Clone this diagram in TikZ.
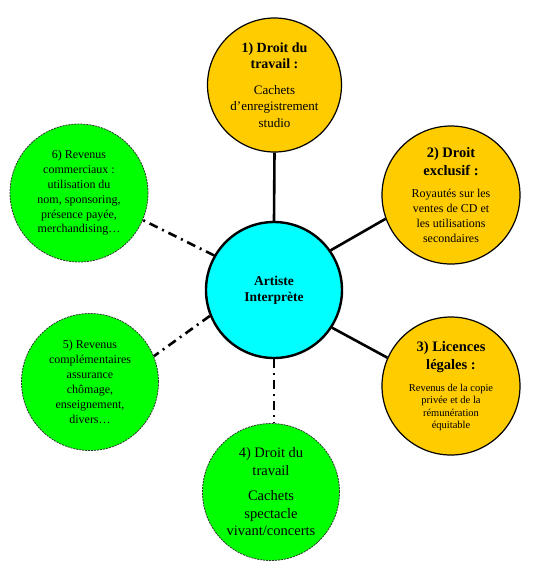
\documentclass[tikz,border=0pt]{standalone}
\usepackage{fontspec}
\setmainfont{Liberation Serif}
\definecolor{yel}{HTML}{FFCC00}
\definecolor{grn}{HTML}{00FF00}
\definecolor{cyn}{HTML}{00FFFF}
\newcommand{\hdA}[1]{{\fontsize{14}{16.5}\selectfont\bfseries #1}}
\newcommand{\hdB}[1]{{\fontsize{14.5}{17}\selectfont\bfseries #1}}
\tikzset{
  yelbox/.style={circle,draw=black,line width=1.2pt,fill=yel,inner sep=0pt,minimum size=#1,align=center,text=black},
  grnbox/.style={circle,draw=black!80,line width=0.8pt,dash pattern=on 2pt off 1pt,fill=grn,inner sep=0pt,minimum size=#1,align=center,text=black},
  cenbox/.style={circle,draw=black,line width=2.4pt,fill=cyn,inner sep=0pt,minimum size=#1,align=center,text=black},
  solidlink/.style={line width=2.6pt,black},
  dashlink/.style={line width=2.6pt,black,dash pattern=on 9pt off 5pt on 2pt off 5pt}
}
\begin{document}
\begin{tikzpicture}[x=1pt,y=-1pt]
\useasboundingbox (0,0) rectangle (535,566);
\node[cenbox=136pt,font=\fontsize{13.5}{15.5}\selectfont\bfseries] (c) at (274,290) {Artiste\\Interprète};
\node[yelbox=134pt,font=\fontsize{13}{16.5}\selectfont] (n1) at (274.5,85) {\hdA{1) Droit du}\\\hdA{travail :}\\[9pt]
  Cachets\\d’enregistrement\\studio};
\node[yelbox=138pt,font=\fontsize{12}{15}\selectfont] (n2) at (451,195) {\hdB{2) Droit}\\[3pt]\hdB{exclusif :}\\[7pt]
  Royautés sur les\\ventes de CD et\\les utilisations\\secondaires};
\node[yelbox=138pt,font=\fontsize{10.5}{12.5}\selectfont] (n3) at (451,386) {\hdB{3) Licences}\\[4.5pt]\hdB{légales :}\\[9pt]
  Revenus de la copie\\privée et de la\\rémunération\\équitable};
\node[grnbox=137pt,font=\fontsize{14.5}{17.5}\selectfont] (n4) at (271,492) {4) Droit du\\travail\\[8pt]
  Cachets\\spectacle\\vivant/concerts};
\node[grnbox=137pt,font=\fontsize{12}{15}\selectfont] (n5) at (90,382) {5) Revenus\\complémentaires\\assurance\\chômage,\\enseignement,\\divers…};
\node[grnbox=138pt,font=\fontsize{12}{14.8}\selectfont] (n6) at (79,193) {6) Revenus\\commerciaux :\\utilisation du\\nom, sponsoring,\\présence payée,\\merchandising…};
\draw[solidlink] (c.north) -- (n1.south);
\draw[solidlink] (c.35) -- (n2.200);
\draw[solidlink] (c.-33) -- (n3.156);
\draw[dashlink] (c.south) -- (c.south |- n4.north);
\draw[dashlink] (c.202) -- (n5.22);
\draw[dashlink] (c.150) -- (n6.-23);
\end{tikzpicture}
\end{document}
